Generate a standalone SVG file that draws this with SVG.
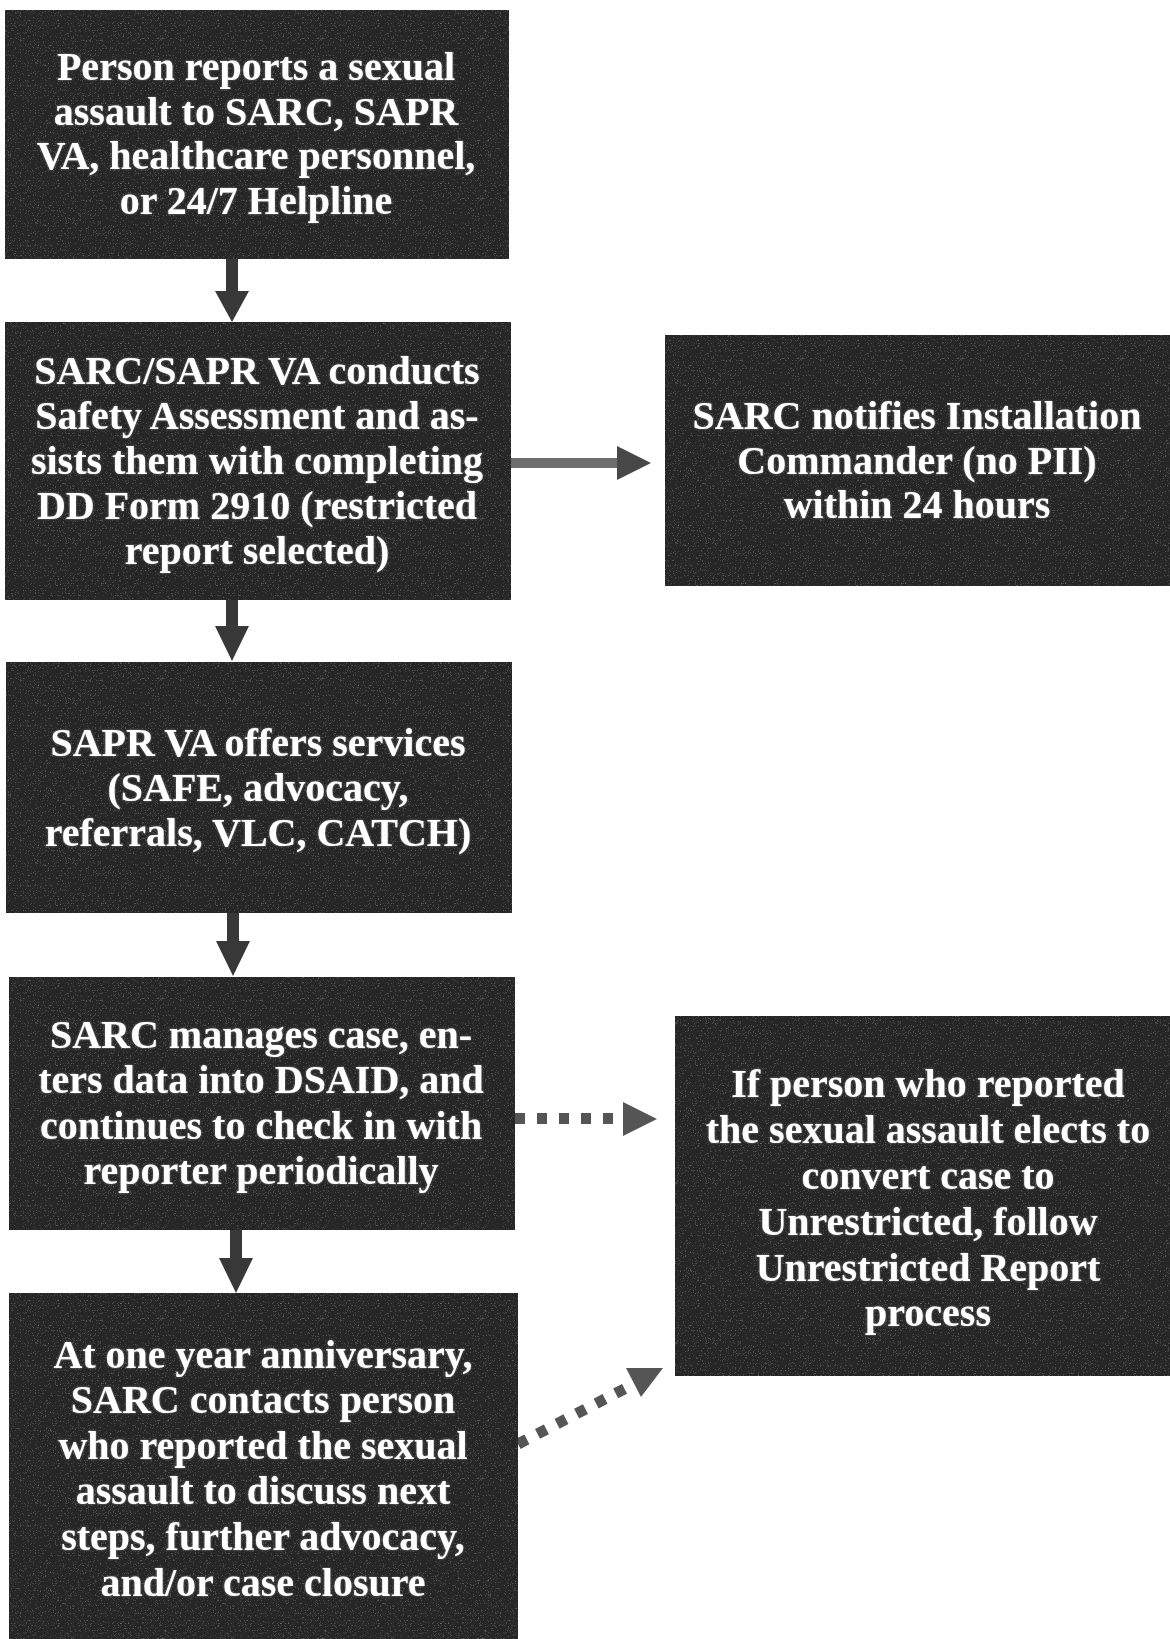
<svg xmlns="http://www.w3.org/2000/svg" width="1170" height="1639" viewBox="0 0 1170 1639">
<defs>
<filter id="grain" x="0" y="0" width="100%" height="100%">
<feTurbulence type="fractalNoise" baseFrequency="1.6" numOctaves="1" seed="3" result="n"/>
<feColorMatrix in="n" type="matrix" values="0 0 0 0 0.4  0 0 0 0 0.4  0 0 0 0 0.4  0 0 0 1.2 -0.7" result="g"/>
<feComposite in="g" in2="SourceGraphic" operator="in" result="gm"/>
<feMerge><feMergeNode in="SourceGraphic"/><feMergeNode in="gm"/></feMerge>
</filter>
<filter id="glow" x="-5%" y="-20%" width="110%" height="140%">
<feGaussianBlur in="SourceAlpha" stdDeviation="1" result="b"/>
<feFlood flood-color="#7a7a7a" result="c"/>
<feComposite in="c" in2="b" operator="in" result="s"/>
<feMerge><feMergeNode in="s"/><feMergeNode in="SourceGraphic"/></feMerge>
</filter>
</defs>
<style>
.box{fill:#282828;filter:url(#grain);}
.lbl{font-family:"Liberation Serif","Times New Roman",serif;font-weight:bold;font-size:40px;fill:#ffffff;text-anchor:middle;filter:url(#glow);}
.arr{fill:#383838;}
.shaft{fill:#6e6e6e;}
.head{fill:#474747;}
.dots{fill:none;stroke:#555555;stroke-width:11;}
.dhead{fill:#555555;}
</style>
<rect width="1170" height="1639" fill="#ffffff"/>

<g id="connectors">
<polygon class="arr" points="226,259 238,259 238,291 249,291 232,322 215,291 226,291"/>
<polygon class="arr" points="226,600 238,600 238,626 249,626 232,661 215,626 226,626"/>
<polygon class="arr" points="227,913 239,913 239,941 250,941 233,976 216,941 227,941"/>
<polygon class="arr" points="230,1230 242,1230 242,1258 253,1258 236,1293 219,1258 230,1258"/>
<rect class="shaft" x="511" y="458" width="108" height="10"/>
<polygon class="head" points="617,446 651,463 617,480"/>
<line class="dots" x1="515" y1="1118.5" x2="617" y2="1118.5" stroke-dasharray="10,12"/>
<polygon class="dhead" points="623,1102 657,1119 623,1136"/>
<line class="dots" x1="518" y1="1444" x2="630" y2="1386" stroke-dasharray="10,12"/>
<polygon class="dhead" points="626,1368 663,1368 641,1397"/>
</g>

<g id="node1">
<rect class="box" x="5" y="10" width="504" height="249"/>
<text class="lbl"><tspan x="256" y="79.5">Person reports a sexual</tspan><tspan x="256" y="124.5">assault to SARC, SAPR</tspan><tspan x="256" y="168.5">VA, healthcare personnel,</tspan><tspan x="256" y="213.5">or 24/7 Helpline</tspan></text>
</g>

<g id="node2">
<rect class="box" x="5" y="322" width="506" height="278"/>
<text class="lbl"><tspan x="257" y="383.5">SARC/SAPR VA conducts</tspan><tspan x="257" y="428.5">Safety Assessment and as-</tspan><tspan x="257" y="473.5">sists them with completing</tspan><tspan x="257" y="518.5">DD Form 2910 (restricted</tspan><tspan x="257" y="563.5">report selected)</tspan></text>
</g>

<g id="node3">
<rect class="box" x="665" y="335" width="505" height="251"/>
<text class="lbl"><tspan x="917" y="428.5">SARC notifies Installation</tspan><tspan x="917" y="473.5">Commander (no PII)</tspan><tspan x="917" y="517.5">within 24 hours</tspan></text>
</g>

<g id="node4">
<rect class="box" x="6" y="662" width="506" height="251"/>
<text class="lbl"><tspan x="258" y="755.5">SAPR VA offers services</tspan><tspan x="258" y="800.5">(SAFE, advocacy,</tspan><tspan x="258" y="845.5">referrals, VLC, CATCH)</tspan></text>
</g>

<g id="node5">
<rect class="box" x="9" y="977" width="506" height="253"/>
<text class="lbl"><tspan x="261" y="1047.5">SARC manages case, en-</tspan><tspan x="261" y="1092.5">ters data into DSAID, and</tspan><tspan x="261" y="1138.5">continues to check in with</tspan><tspan x="261" y="1183.5">reporter periodically</tspan></text>
</g>

<g id="node6">
<rect class="box" x="675" y="1016" width="495" height="360"/>
<text class="lbl"><tspan x="928" y="1096.5">If person who reported</tspan><tspan x="928" y="1142.5">the sexual assault elects to</tspan><tspan x="928" y="1188.5">convert case to</tspan><tspan x="928" y="1234.5">Unrestricted, follow</tspan><tspan x="928" y="1280.5">Unrestricted Report</tspan><tspan x="928" y="1325.5">process</tspan></text>
</g>

<g id="node7">
<rect class="box" x="9" y="1293" width="509" height="346"/>
<text class="lbl"><tspan x="263" y="1367.5">At one year anniversary,</tspan><tspan x="263" y="1412.5">SARC contacts person</tspan><tspan x="263" y="1458.5">who reported the sexual</tspan><tspan x="263" y="1503.5">assault to discuss next</tspan><tspan x="263" y="1549.5">steps, further advocacy,</tspan><tspan x="263" y="1595.5">and/or case closure</tspan></text>
</g>
</svg>
